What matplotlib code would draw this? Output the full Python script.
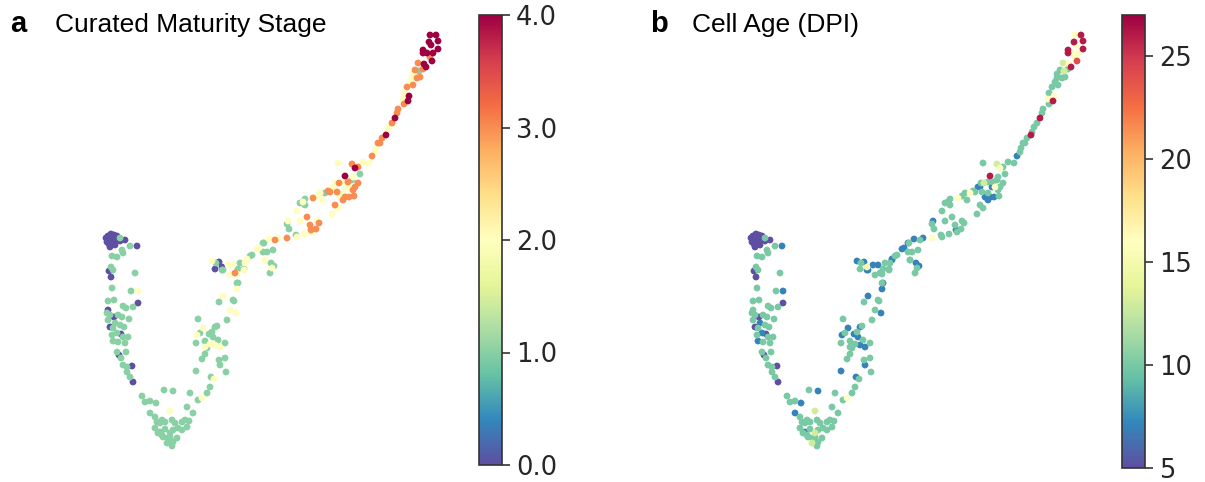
import matplotlib
matplotlib.use("Agg")
import matplotlib.pyplot as plt
import numpy as np

# embedding coordinates (screen-like units, y grows downward) + per-cell values
# left purple cluster
seg1_x = [108, 111, 114, 117, 108, 112, 116, 109, 113, 110, 119, 106, 115, 120, 111, 107]
seg1_y = [236, 234, 235, 236, 240, 239, 240, 244, 243, 247, 238, 238, 245, 241, 237, 242]
seg1_stage = [0] * 16
seg1_age = [5] * 16

# left arm
seg2_x = [120, 125, 130, 137, 122, 123, 112, 117, 111, 113, 109, 111, 135, 112, 131, 138, 108, 114,
          138, 123, 126, 133, 108, 107, 110, 114, 118, 122, 129, 108, 115, 120, 124, 110, 113, 121,
          112, 117, 123, 128, 113, 118, 125, 117, 126, 119, 121, 123, 127, 132, 127, 130, 133]
seg2_y = [238, 240, 246, 246, 250, 253, 256, 257, 267, 270, 271, 277, 273, 288, 291, 291, 301, 300,
          303, 306, 308, 307, 310, 313, 315, 317, 315, 317, 319, 320, 323, 325, 327, 327, 328, 334,
          335, 333, 337, 337, 341, 342, 343, 352, 352, 355, 358, 365, 367, 366, 372, 377, 382]
seg2_stage = [1, 0, 1, 0, 1, 1, 1, 1, 1, 1, 0, 0, 1, 1, 1, 2, 1, 1,
              0, 1, 1, 1, 0, 1, 1, 0, 1, 1, 1, 1, 1, 1, 1, 0, 1, 0,
              1, 1, 1, 1, 1, 1, 1, 1, 1, 0, 1, 1, 1, 0, 1, 1, 0]
seg2_age = [10, 5, 10, 7, 10, 10, 10, 10, 10, 10, 5, 5, 10, 10, 10, 7, 10, 10,
            5, 10, 10, 10, 10, 10, 10, 5, 10, 10, 10, 10, 7, 10, 10, 5, 10, 5,
            10, 7, 10, 10, 7, 10, 10, 10, 10, 5, 10, 10, 10, 5, 10, 10, 5]

# bottom of the V
seg3_x = [142, 145, 150, 156, 164, 173, 170, 150, 155, 157, 160, 162, 165, 172, 175, 182, 185, 189,
          190, 187, 193, 155, 160, 165, 170, 173, 178, 182, 187, 163, 168, 173, 177, 167, 162, 158,
          170, 172]
seg3_y = [396, 402, 401, 403, 390, 391, 411, 413, 417, 422, 423, 420, 422, 420, 423, 422, 420, 421,
          393, 407, 413, 428, 432, 429, 433, 430, 428, 430, 427, 437, 438, 442, 438, 443, 435, 433,
          437, 446]
seg3_stage = [1, 1, 1, 1, 1, 1, 2, 1, 1, 1, 1, 1, 1, 1, 1, 1, 1, 1,
              1, 1, 1, 1, 1, 1, 1, 1, 1, 1, 1, 1, 1, 1, 1, 1, 1, 1,
              1, 1]
seg3_age = [10, 10, 10, 7, 10, 7, 13, 7, 10, 10, 10, 10, 10, 10, 10, 10, 10, 10,
            10, 10, 10, 10, 7, 10, 13, 10, 10, 10, 10, 10, 10, 10, 10, 13, 10, 10,
            10, 10]

# rising branch, lower part
seg4_x = [198, 202, 207, 210, 214, 196, 205, 202, 219, 220, 225, 226, 211, 198, 203, 197, 200, 196,
          205, 209, 212, 215, 217, 213, 218, 205, 210, 215, 220, 225, 207]
seg4_y = [400, 398, 393, 387, 379, 371, 354, 359, 360, 365, 358, 372, 377, 319, 328, 335, 333, 343,
          341, 334, 332, 327, 326, 337, 340, 347, 344, 345, 347, 343, 348]
seg4_stage = [1, 2, 1, 1, 2, 1, 1, 1, 1, 1, 1, 1, 1, 1, 2, 2, 1, 1,
              1, 1, 1, 1, 1, 1, 1, 2, 2, 2, 2, 1, 1]
seg4_age = [10, 16, 10, 10, 10, 7, 10, 10, 10, 7, 10, 10, 7, 10, 7, 7, 10, 10,
            10, 7, 10, 7, 10, 7, 10, 10, 10, 7, 7, 10, 10]

# rising branch, middle
seg5_x = [227, 230, 236, 234, 223, 219, 237, 238, 237, 230, 235, 238, 244, 245, 240, 233, 228, 222,
          215, 219, 216, 212, 222, 247, 252, 257, 263, 263, 267, 265, 270, 250, 247, 244, 223, 237,
          233]
seg5_y = [320, 310, 313, 301, 296, 302, 289, 283, 274, 275, 273, 269, 269, 263, 263, 265, 265, 267,
          269, 262, 263, 261, 270, 260, 255, 249, 243, 252, 252, 260, 273, 256, 259, 270, 270, 283,
          300]
seg5_stage = [1, 2, 2, 1, 2, 1, 2, 1, 2, 2, 3, 1, 1, 2, 1, 2, 2, 0,
              0, 0, 1, 2, 1, 2, 1, 2, 1, 1, 1, 2, 1, 1, 2, 2, 1, 1,
              1]
seg5_age = [10, 10, 7, 10, 7, 10, 7, 7, 10, 10, 10, 10, 10, 10, 10, 7, 7, 15,
            10, 7, 10, 7, 7, 7, 10, 7, 7, 10, 10, 10, 10, 10, 7, 10, 7, 10,
            10]

# upper middle
seg6_x = [259, 264, 269, 275, 278, 287, 273, 265, 271, 274, 272, 296, 304, 297, 288, 287, 289, 300,
          307, 317, 319, 310, 311, 316, 312, 297, 305, 300, 305, 303, 313, 317, 320, 322, 325, 328,
          335, 338, 332, 343, 349, 337, 343, 335, 339, 343, 347, 350, 348, 353, 355, 358, 352, 353,
          345, 360, 355, 358, 338, 352, 363, 369, 372, 375, 378, 336, 340, 345, 354, 333, 330]
seg6_y = [248, 243, 239, 240, 238, 238, 250, 260, 263, 266, 268, 235, 234, 237, 221, 224, 229, 221,
          217, 221, 223, 225, 230, 229, 232, 211, 199, 203, 205, 202, 198, 196, 193, 200, 193, 191,
          205, 208, 214, 200, 197, 192, 193, 187, 183, 182, 187, 187, 182, 190, 187, 183, 180, 177,
          176, 174, 168, 167, 163, 164, 162, 163, 156, 152, 143, 183, 197, 197, 196, 187, 192]
seg6_stage = [2, 1, 2, 3, 2, 3, 1, 2, 1, 1, 2, 1, 2, 2, 2, 1, 1, 2,
              3, 2, 3, 3, 3, 3, 2, 2, 1, 1, 1, 2, 3, 2, 2, 2, 1, 3,
              3, 2, 2, 3, 3, 3, 2, 2, 3, 2, 2, 2, 3, 3, 3, 3, 1, 2,
              4, 1, 4, 3, 2, 3, 2, 2, 3, 2, 3, 2, 2, 3, 3, 2, 3]
seg6_age = [7, 10, 7, 10, 7, 16, 10, 10, 7, 7, 10, 10, 10, 10, 7, 10, 10, 10,
            10, 10, 10, 10, 7, 10, 10, 10, 10, 10, 10, 10, 16, 10, 10, 10, 16, 10,
            10, 10, 10, 7, 7, 10, 10, 7, 13, 10, 7, 16, 10, 10, 10, 10, 10, 10,
            26, 10, 16, 10, 10, 13, 10, 10, 7, 10, 10, 10, 7, 7, 10, 7, 10]

# upper arm and tip
seg7_x = [376, 380, 382, 386, 387, 389, 392, 395, 397, 398, 404, 403, 408, 409, 404, 407, 413, 410,
          412, 412, 417, 420, 419, 423, 415, 418, 426, 424, 432, 430, 423, 427, 433, 438, 423, 431,
          429, 438, 430, 436]
seg7_y = [148, 143, 138, 135, 132, 127, 123, 118, 113, 109, 104, 99, 101, 96, 93, 87, 85, 82,
          78, 74, 78, 77, 71, 69, 70, 63, 67, 64, 61, 57, 53, 53, 53, 49, 50, 45,
          42, 41, 35, 35]
seg7_stage = [2, 3, 3, 4, 2, 2, 3, 4, 3, 3, 3, 2, 4, 4, 2, 3, 3, 2,
              2, 2, 3, 3, 1, 3, 3, 3, 4, 4, 4, 3, 4, 4, 4, 4, 4, 4,
              4, 4, 4, 4]
seg7_age = [10, 10, 10, 26, 10, 10, 10, 26, 10, 10, 10, 16, 26, 16, 10, 10, 10, 10,
            10, 10, 10, 10, 13, 10, 10, 13, 26, 16, 24, 16, 26, 16, 16, 26, 26, 16,
            26, 26, 16, 26]

umap_x = np.array(seg1_x + seg2_x + seg3_x + seg4_x + seg5_x + seg6_x + seg7_x, dtype=float)
umap_y = np.array(seg1_y + seg2_y + seg3_y + seg4_y + seg5_y + seg6_y + seg7_y, dtype=float)
stage = np.array(seg1_stage + seg2_stage + seg3_stage + seg4_stage + seg5_stage + seg6_stage + seg7_stage, dtype=float)
age = np.array(seg1_age + seg2_age + seg3_age + seg4_age + seg5_age + seg6_age + seg7_age, dtype=float)

W, H = 1205, 482
fig = plt.figure(figsize=(W / 100, H / 100), dpi=100)

def px(l, b, w, h):
    return [l / W, b / H, w / W, h / H]

def panel(left, cb_left, values, vmin, vmax, ticks, ticklabels, cb_bottom, cb_h):
    ax = fig.add_axes(px(left, 17, 380, 450))
    order = np.argsort(values, kind="stable")
    sc = ax.scatter(umap_x[order], umap_y[order], c=values[order], cmap="Spectral_r",
                    vmin=vmin, vmax=vmax, s=24, linewidths=0)
    ax.set_xlim(80, 460)
    ax.set_ylim(465, 15)
    ax.axis("off")
    cax = fig.add_axes(px(cb_left, cb_bottom, 23, cb_h))
    cb = fig.colorbar(sc, cax=cax)
    cb.set_ticks(ticks)
    cb.set_ticklabels(ticklabels)
    cb.outline.set_edgecolor("#333333")
    cb.outline.set_linewidth(1.2)
    cax.tick_params(labelsize=18.5, length=6, width=1.2, color="#333333", labelcolor="#262626", pad=4)
    return ax

panel(80, 479, stage, 0, 4, [0, 1, 2, 3, 4], ["0.0", "1.0", "2.0", "3.0", "4.0"], 17, 450)
panel(725, 1122, age, 5, 27, [5, 10, 15, 20, 25], ["5", "10", "15", "20", "25"], 14, 453)

fig.text(10 / W, 1 - 32 / H, "a", fontsize=21, fontweight="bold", family="Liberation Sans", va="baseline")
fig.text(55 / W, 1 - 32 / H, "Curated Maturity Stage", fontsize=19, family="Liberation Sans", va="baseline")
fig.text(650 / W, 1 - 32 / H, "b", fontsize=21, fontweight="bold", family="Liberation Sans", va="baseline")
fig.text(692 / W, 1 - 32 / H, "Cell Age (DPI)", fontsize=19, family="Liberation Sans", va="baseline")

fig.savefig("out.png", dpi=100)
